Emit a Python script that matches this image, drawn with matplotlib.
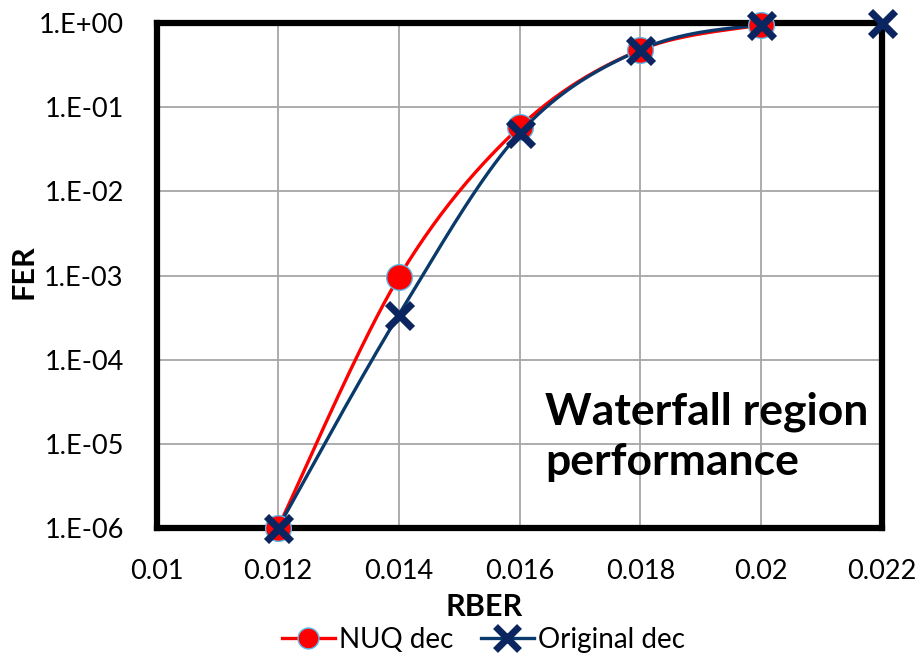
import numpy as np
import matplotlib
matplotlib.use("Agg")
import matplotlib.pyplot as plt
from matplotlib.ticker import FixedLocator, FuncFormatter

plt.rcParams['font.family'] = ['Lato', 'DejaVu Sans']

# Frame error rate versus raw bit error rate for two decoders
rber_nuq = [0.012, 0.014, 0.016, 0.018, 0.020]
fer_nuq = [1.0e-6, 9.5e-4, 5.8e-2, 0.48, 0.95]

rber_orig = [0.012, 0.014, 0.016, 0.018, 0.020, 0.022]
fer_orig = [1.0e-6, 3.4e-4, 4.9e-2, 0.48, 0.95, 1.0]

x_ticks = [0.01, 0.012, 0.014, 0.016, 0.018, 0.02, 0.022]
x_tick_labels = ["0.01", "0.012", "0.014", "0.016", "0.018", "0.02", "0.022"]
y_ticks = [1e-6, 1e-5, 1e-4, 1e-3, 1e-2, 1e-1, 1e0]


def smooth(xs, ys, n=60):
    """Bezier smoothing through the points, done in (x, log10 y) space."""
    px = np.asarray(xs, float)
    py = np.log10(np.asarray(ys, float))
    m = len(px)
    ex = np.concatenate([[px[0]], px, [px[-1]]])
    ey = np.concatenate([[py[0]], py, [py[-1]]])
    out_x, out_y = [], []
    t = np.linspace(0, 1, n)
    for i in range(m - 1):
        p0 = np.array([ex[i + 1], ey[i + 1]])
        p3 = np.array([ex[i + 2], ey[i + 2]])
        p1 = p0 + (np.array([ex[i + 2], ey[i + 2]]) - np.array([ex[i], ey[i]])) / 6
        p2 = p3 - (np.array([ex[i + 3], ey[i + 3]]) - np.array([ex[i + 1], ey[i + 1]])) / 6
        b = ((1 - t) ** 3)[:, None] * p0 + (3 * (1 - t) ** 2 * t)[:, None] * p1 \
            + (3 * (1 - t) * t ** 2)[:, None] * p2 + (t ** 3)[:, None] * p3
        out_x.append(b[:, 0])
        out_y.append(b[:, 1])
    return np.concatenate(out_x), 10 ** np.concatenate(out_y)


fig = plt.figure(figsize=(9.2, 6.53), dpi=100)
ax = fig.add_axes([0.1707, 0.1914, 0.9587 - 0.1707, 0.9648 - 0.1914])

red = "#ff0000"
navy = "#0a3a6b"
xcol = "#0b2560"
ring = "#5ab8e8"

sx, sy = smooth(rber_nuq, fer_nuq)
ax.plot(sx, sy, color=red, lw=2.4, zorder=3)
sx, sy = smooth(rber_orig, fer_orig)
ax.plot(sx, sy, color=navy, lw=2.4, zorder=4)

ax.plot(rber_nuq, fer_nuq, linestyle="none", marker="o", markersize=18.5,
        markerfacecolor=red, markeredgecolor=ring, markeredgewidth=1.0,
        zorder=5, clip_on=False)
ax.plot(rber_orig, fer_orig, linestyle="none", marker="x", markersize=18,
        markeredgecolor=xcol, markeredgewidth=5.2, zorder=6, clip_on=False)

# legend proxies
h1, = ax.plot([], [], color=red, lw=2.4, marker="o", markersize=15,
              markerfacecolor=red, markeredgecolor=ring, markeredgewidth=1.0)
h2, = ax.plot([], [], color=navy, lw=2.4, marker="x", markersize=17,
              markeredgecolor=xcol, markeredgewidth=5)

ax.set_yscale("log")
ax.set_xlim(0.01, 0.022)
ax.set_ylim(1e-6, 1e0)
ax.xaxis.set_major_locator(FixedLocator(x_ticks))
ax.set_xticklabels(x_tick_labels)
ax.yaxis.set_major_locator(FixedLocator(y_ticks))
ax.yaxis.set_minor_locator(FixedLocator([]))
ax.yaxis.set_major_formatter(FuncFormatter(
    lambda v, p: "1.E+00" if v >= 1 else "1.E-%02d" % round(-np.log10(v))))

ax.grid(True, color="#a6a6a6", lw=1.3)
ax.set_axisbelow(True)
for s in ax.spines.values():
    s.set_linewidth(4.5)
    s.set_color("black")
    s.set_zorder(4.5)

ax.tick_params(axis="both", length=0, labelsize=19.5)
ax.tick_params(axis="y", pad=24)
ax.tick_params(axis="x", pad=22)

ax.set_xlabel("RBER", fontsize=22, fontweight="bold", va="center", ha="center")
ax.xaxis.set_label_coords(0.451, -0.157)
ax.set_ylabel("FER", fontsize=22, fontweight="bold", va="center", ha="center")
ax.yaxis.set_label_coords(-0.184, 0.507)

ax.text(0.535, 0.204, "Waterfall region", transform=ax.transAxes,
        fontsize=32, fontweight="bold", ha="left", va="baseline")
ax.text(0.535, 0.105, "performance", transform=ax.transAxes,
        fontsize=32, fontweight="bold", ha="left", va="baseline")

fig.legend([h1, h2], ["NUQ dec", "Original dec"], loc="center",
           bbox_to_anchor=(0.5255, 0.020), ncol=2, frameon=False, fontsize=20,
           handlelength=1.9, handletextpad=0.15, columnspacing=1.0, borderpad=0)

fig.savefig("out.png", dpi=100)
